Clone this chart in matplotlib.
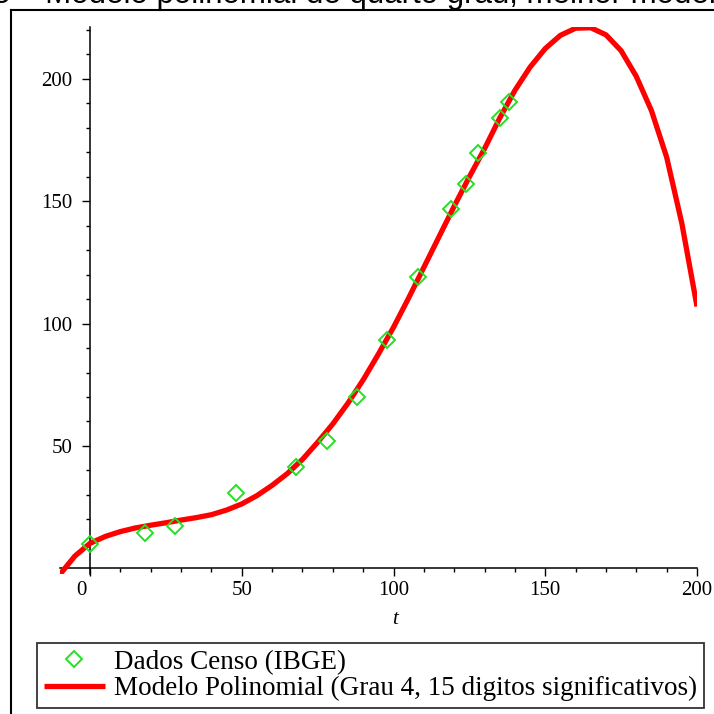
import matplotlib
matplotlib.use("Agg")
import matplotlib.pyplot as plt
from matplotlib.lines import Line2D
from matplotlib.ticker import FixedLocator
import matplotlib.transforms as mtransforms

# Census data (t = years since 1872, population in millions)
census_t = [0, 18, 28, 48, 68, 78, 88, 98, 108, 119, 124, 128, 135, 138]
census_pop = [9.9, 14.3, 17.4, 30.6, 41.2, 51.9, 70.1, 93.1, 119.0, 146.8, 157.1, 169.8, 183.9, 190.7]

# Polynomial model curve
model_t = [-10, -5, 0, 5, 10, 15, 20, 25, 30, 35, 40, 45, 50, 55, 60, 65, 70, 75, 80,
           85, 90, 95, 100, 105, 110, 115, 120, 125, 130, 135, 140, 145, 150, 155, 160,
           165, 170, 175, 180, 185, 190, 195, 200]
model_pop = [-2.6, 5.0, 10.2, 13.0, 15.0, 16.5, 17.6, 18.6, 19.7, 20.7, 21.9, 23.8, 26.3,
             29.7, 33.9, 38.7, 44.5, 51.5, 59.0, 67.5, 77.0, 87.5, 98.5, 110.5, 123.0,
             135.5, 148.0, 160.0, 171.5, 184.0, 195.3, 204.8, 212.4, 217.8, 220.7,
             220.9, 218.0, 211.5, 201.0, 187.0, 168.0, 141.0, 107.0]

x_ticks = [0, 50, 100, 150, 200]
y_ticks = [50, 100, 150, 200]

legend_labels = ["Dados Censo (IBGE)", "Modelo Polinomial (Grau 4, 15 digitos significativos)"]
title_text = "5 \u2013 Modelo polinomial de quarto grau, melhor modelo"

W = H = 714
fig = plt.figure(figsize=(7.14, 7.14), dpi=100)

serif = ["Liberation Serif", "DejaVu Serif"]

# axes placement
left_px, right_px = 59.7, 697.0
top_px, bot_px = 27.0, 574.4
ax = fig.add_axes([left_px / W, 1 - bot_px / H, (right_px - left_px) / W, (bot_px - top_px) / H])
ax.set_xlim(-10, 200)
ax.set_ylim(-2.5, 221.2)

ax.plot(model_t, model_pop, color="#ff0000", lw=3.8, solid_capstyle="butt",
        label=legend_labels[1], zorder=3)
ax.plot(census_t, census_pop, linestyle="none", marker="D", ms=8, mfc="none",
        mec="#22e022", mew=1.4, label=legend_labels[0], zorder=4)

for s in ["top", "right"]:
    ax.spines[s].set_visible(False)
ax.spines["left"].set_position(("data", 0))
ax.spines["bottom"].set_position(("data", 0))
for s in ["left", "bottom"]:
    ax.spines[s].set_linewidth(1.1)
ax.patch.set_visible(False)

ax.xaxis.set_major_locator(FixedLocator(x_ticks))
ax.xaxis.set_minor_locator(FixedLocator([v for v in range(10, 201, 10) if v % 50]))
ax.yaxis.set_major_locator(FixedLocator(y_ticks))
ax.yaxis.set_minor_locator(FixedLocator([v for v in range(10, 221, 10) if v % 50]))
ax.set_xticklabels([str(v) for v in x_ticks], family=serif, fontsize=15)
ax.set_yticklabels([str(v) for v in y_ticks], family=serif, fontsize=15)
ax.tick_params(which="major", direction="out", length=5.8, width=1.0, pad=3.5)
ax.tick_params(which="minor", direction="out", length=3.0, width=1.0)
ax.tick_params(axis="y", which="major", pad=7)

# shift the "0" x label to the left
offset = mtransforms.ScaledTranslation(-9 / 100, 0, fig.dpi_scale_trans)
lab0 = ax.get_xticklabels()[0]
lab0.set_transform(lab0.get_transform() + offset)

fig.text(395 / W, 1 - 620 / H, "t", family=serif, style="italic", fontsize=15,
         ha="center", va="center")

# legend
leg = fig.legend(handles=[ax.lines[1], ax.lines[0]], labels=legend_labels,
                 loc="lower left", bbox_to_anchor=(37 / W, 1 - 708 / H),
                 prop={"family": serif, "size": 19.5}, frameon=True, fancybox=False,
                 borderpad=0.25, handlelength=2.25, handletextpad=0.35,
                 labelspacing=0.05, borderaxespad=0)
leg.get_frame().set_edgecolor("black")
leg.get_frame().set_linewidth(1.3)

# outer frame of the document figure
fig.add_artist(Line2D([11 / W, 11 / W], [0, 1 - 10 / H], color="black", lw=1.5))
fig.add_artist(Line2D([11 / W, 1], [1 - 10 / H, 1 - 10 / H], color="black", lw=1.5))

# caption partly clipped at top
fig.text(-7 / W, 1 - 3 / H, title_text, family=["Liberation Sans", "DejaVu Sans"],
         fontsize=22.5, ha="left", va="baseline")

fig.savefig("out.png", dpi=100)
